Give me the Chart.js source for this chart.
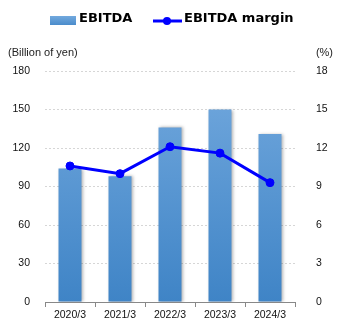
<!DOCTYPE html>
<html>
<head>
<meta charset="utf-8">
<script src="https://cdn.jsdelivr.net/npm/chart.js@4"></script>
<style>
  html, body { margin: 0; padding: 0; background: #fff; }
  #wrap { position: relative; width: 345px; height: 330px; }
</style>
</head>
<body>
<div id="wrap"><canvas id="myChart" width="345" height="330"></canvas></div>
<script>
// chart data
const years = ['2020/3', '2021/3', '2022/3', '2023/3', '2024/3'];
const ebitda = [104, 98, 136, 150, 131];
const margin = [10.6, 10.0, 12.1, 11.6, 9.3];
const leftTicks = [0, 30, 60, 90, 120, 150, 180];
const rightTicks = [0, 3, 6, 9, 12, 15, 18];

// bar fill, lighter at the top
function barFill(context) {
  const chart = context.chart;
  const area = chart.chartArea;
  if (!area) return '#5b9bd5';
  const g = chart.ctx.createLinearGradient(0, area.top, 0, area.bottom);
  g.addColorStop(0, '#73a9de');
  g.addColorStop(1, '#3f84c6');
  return g;
}

// legend + unit labels drawn on the canvas
const extras = {
  id: 'extras',
  beforeDatasetDraw(chart, args) {
    if (args.index === 0) {
      const c = chart.ctx;
      c.save();
      c.shadowColor = 'rgba(0,0,0,0.3)';
      c.shadowBlur = 3;
      c.shadowOffsetX = 1.5;
      c.shadowOffsetY = 0;
    }
  },
  afterDatasetDraw(chart, args) {
    if (args.index === 0) chart.ctx.restore();
  },
  afterDraw(chart) {
    const c = chart.ctx;
    c.save();
    // legend
    const g = c.createLinearGradient(0, 16, 0, 25);
    g.addColorStop(0, '#73a9de');
    g.addColorStop(1, '#4a8ccb');
    c.fillStyle = g;
    c.fillRect(50, 16, 26, 9);
    c.fillStyle = '#000';
    c.font = 'bold 13px "DejaVu Sans"';
    c.textBaseline = 'middle';
    c.textAlign = 'left';
    c.fillText('EBITDA', 79, 19);
    c.strokeStyle = '#0000ff';
    c.lineWidth = 3;
    c.beginPath();
    c.moveTo(153, 21);
    c.lineTo(182, 21);
    c.stroke();
    c.fillStyle = '#0000ff';
    c.beginPath();
    c.arc(167, 21, 4, 0, Math.PI * 2);
    c.fill();
    c.fillStyle = '#000';
    c.fillText('EBITDA margin', 184, 19);
    // units
    c.font = '11px "Liberation Sans"';
    c.fillStyle = '#222';
    c.fillText('(Billion of yen)', 8, 53);
    c.textAlign = 'right';
    c.fillText('(%)', 333, 53);
    c.restore();
  }
};

const ctx = document.getElementById('myChart');
const tickFont = { family: '"Liberation Sans"', size: 10.5 };

new Chart(ctx, {
  type: 'bar',
  data: {
    labels: years,
    datasets: [{
      type: 'bar',
      label: 'EBITDA',
      data: ebitda,
      yAxisID: 'y',
      backgroundColor: barFill,
      barPercentage: 0.46,
      categoryPercentage: 1,
      order: 1
    }, {
      type: 'line',
      label: 'EBITDA margin',
      data: margin,
      yAxisID: 'y1',
      borderColor: '#0000ff',
      backgroundColor: '#0000ff',
      borderWidth: 3,
      pointRadius: 4,
      pointBorderWidth: 1,
      pointHoverRadius: 4,
      tension: 0,
      order: 0
    }]
  },
  options: {
    responsive: false,
    animation: false,
    layout: { padding: { top: 71, left: 0, right: 0, bottom: 0 } },
    plugins: { legend: { display: false }, tooltip: { enabled: false } },
    scales: {
      x: {
        offset: true,
        grid: { offset: true, drawOnChartArea: false, drawTicks: true, tickLength: 5, color: '#888' },
        border: { color: '#888' },
        ticks: { font: tickFont, color: '#111', padding: 2, maxRotation: 0 },
        afterFit(s) { s.height = 28; }
      },
      y: {
        position: 'left',
        min: 0, max: 180,
        afterBuildTicks(s) { s.ticks = leftTicks.map(v => ({ value: v })); },
        grid: { color: '#d6d6d6', drawTicks: false },
        border: { display: false, dash: [2, 2] },
        ticks: { font: tickFont, color: '#111', padding: 15 },
        afterFit(s) { s.width = 45; }
      },
      y1: {
        position: 'right',
        min: 0, max: 18,
        afterBuildTicks(s) { s.ticks = rightTicks.map(v => ({ value: v })); },
        grid: { display: false },
        border: { display: false },
        ticks: { font: tickFont, color: '#111', padding: 13 },
        afterFit(s) { s.width = 50; }
      }
    }
  },
  plugins: [extras]
});
</script>
</body>
</html>
